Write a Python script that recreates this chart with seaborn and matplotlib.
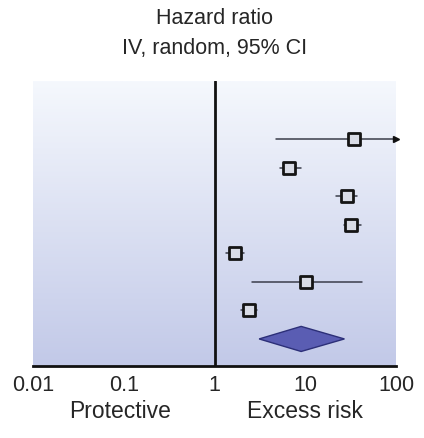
import numpy as np
import matplotlib
matplotlib.use("Agg")
import matplotlib.pyplot as plt
import seaborn as sns
import pandas as pd
from matplotlib.colors import LinearSegmentedColormap

# ข้อมูล hazard ratio ของแต่ละการศึกษา
hr = [34.5, 6.7, 29.0, 32.0, 1.7, 10.3, 2.4]
ci_low = [4.8, 5.3, 21.8, 26.8, 1.35, 2.6, 1.98]
ci_high = [150.0, 9.0, 37.0, 41.0, 2.1, 42.5, 2.97]
# ค่ารวม (diamond)
pooled = 9.0
pooled_low = 3.1
pooled_high = 27.0

tick_vals = [0.01, 0.1, 1, 10, 100]
tick_labels = ["0.01", "0.1", "1", "10", "100"]

sns.set_style("white")
plt.rcParams["font.family"] = ["Liberation Sans", "DejaVu Sans"]

df = pd.DataFrame({"hr": hr, "lo": ci_low, "hi": ci_high, "row": range(len(hr))})

fig = plt.figure(figsize=(4.24, 4.39), dpi=100)
ax = fig.add_axes([0.078, 0.164, 0.856, 0.649])
ax.set_xscale("log")
ax.set_xlim(0.01, 100)
ax.set_ylim(len(hr) + 0.95, -2.05)

# พื้นหลังไล่สี
cmap = LinearSegmentedColormap.from_list("bg", ["#f5f8fd", "#c2c9e8"])
grad = np.linspace(0, 1, 256).reshape(-1, 1)
ax.imshow(grad, cmap=cmap, aspect="auto", extent=[0, 1, 0, 1],
          transform=ax.transAxes, zorder=0, origin="upper")

# เส้น CI
for _, r in df.iterrows():
    right = min(r["hi"], 100)
    ax.plot([r["lo"], right], [r["row"], r["row"]], color="#3a3d4a", lw=1.1, zorder=2)
    if r["hi"] > 100:
        ax.plot([100], [r["row"]], marker=">", color="#111111", ms=4.5,
                clip_on=False, zorder=3)

sns.scatterplot(data=df, x="hr", y="row", marker="s", s=68, color="#d9dce6",
                edgecolor="#151515", linewidth=2.0, zorder=4, ax=ax, legend=False)

# diamond ค่ารวม
yd = len(hr)
h = 0.44
ax.fill([pooled_low, pooled, pooled_high, pooled],
        [yd, yd - h, yd, yd + h], facecolor="#5a5db3", edgecolor="#2c2f78",
        lw=1.0, zorder=4)

ax.axvline(1, color="#111111", lw=2, zorder=3)

for s in ["top", "left", "right"]:
    ax.spines[s].set_visible(False)
ax.spines["bottom"].set_color("#111111")
ax.spines["bottom"].set_linewidth(2)
ax.set_yticks([])
ax.set_xticks(tick_vals)
ax.set_xticklabels(tick_labels, fontsize=15.5)
ax.minorticks_off()
ax.tick_params(axis="x", direction="in", length=8, width=2, color="#111111", pad=6)
ax.set_xlabel("")
ax.set_ylabel("")

fig.text(0.507, 0.958, "Hazard ratio", ha="center", va="center", fontsize=15.5)
fig.text(0.507, 0.889, "IV, random, 95% CI", ha="center", va="center", fontsize=15.5)
fig.text(0.283, 0.062, "Protective", ha="center", va="center", fontsize=16.5)
fig.text(0.72, 0.062, "Excess risk", ha="center", va="center", fontsize=16.5)

plt.savefig("out.png", dpi=100)
plt.close()
